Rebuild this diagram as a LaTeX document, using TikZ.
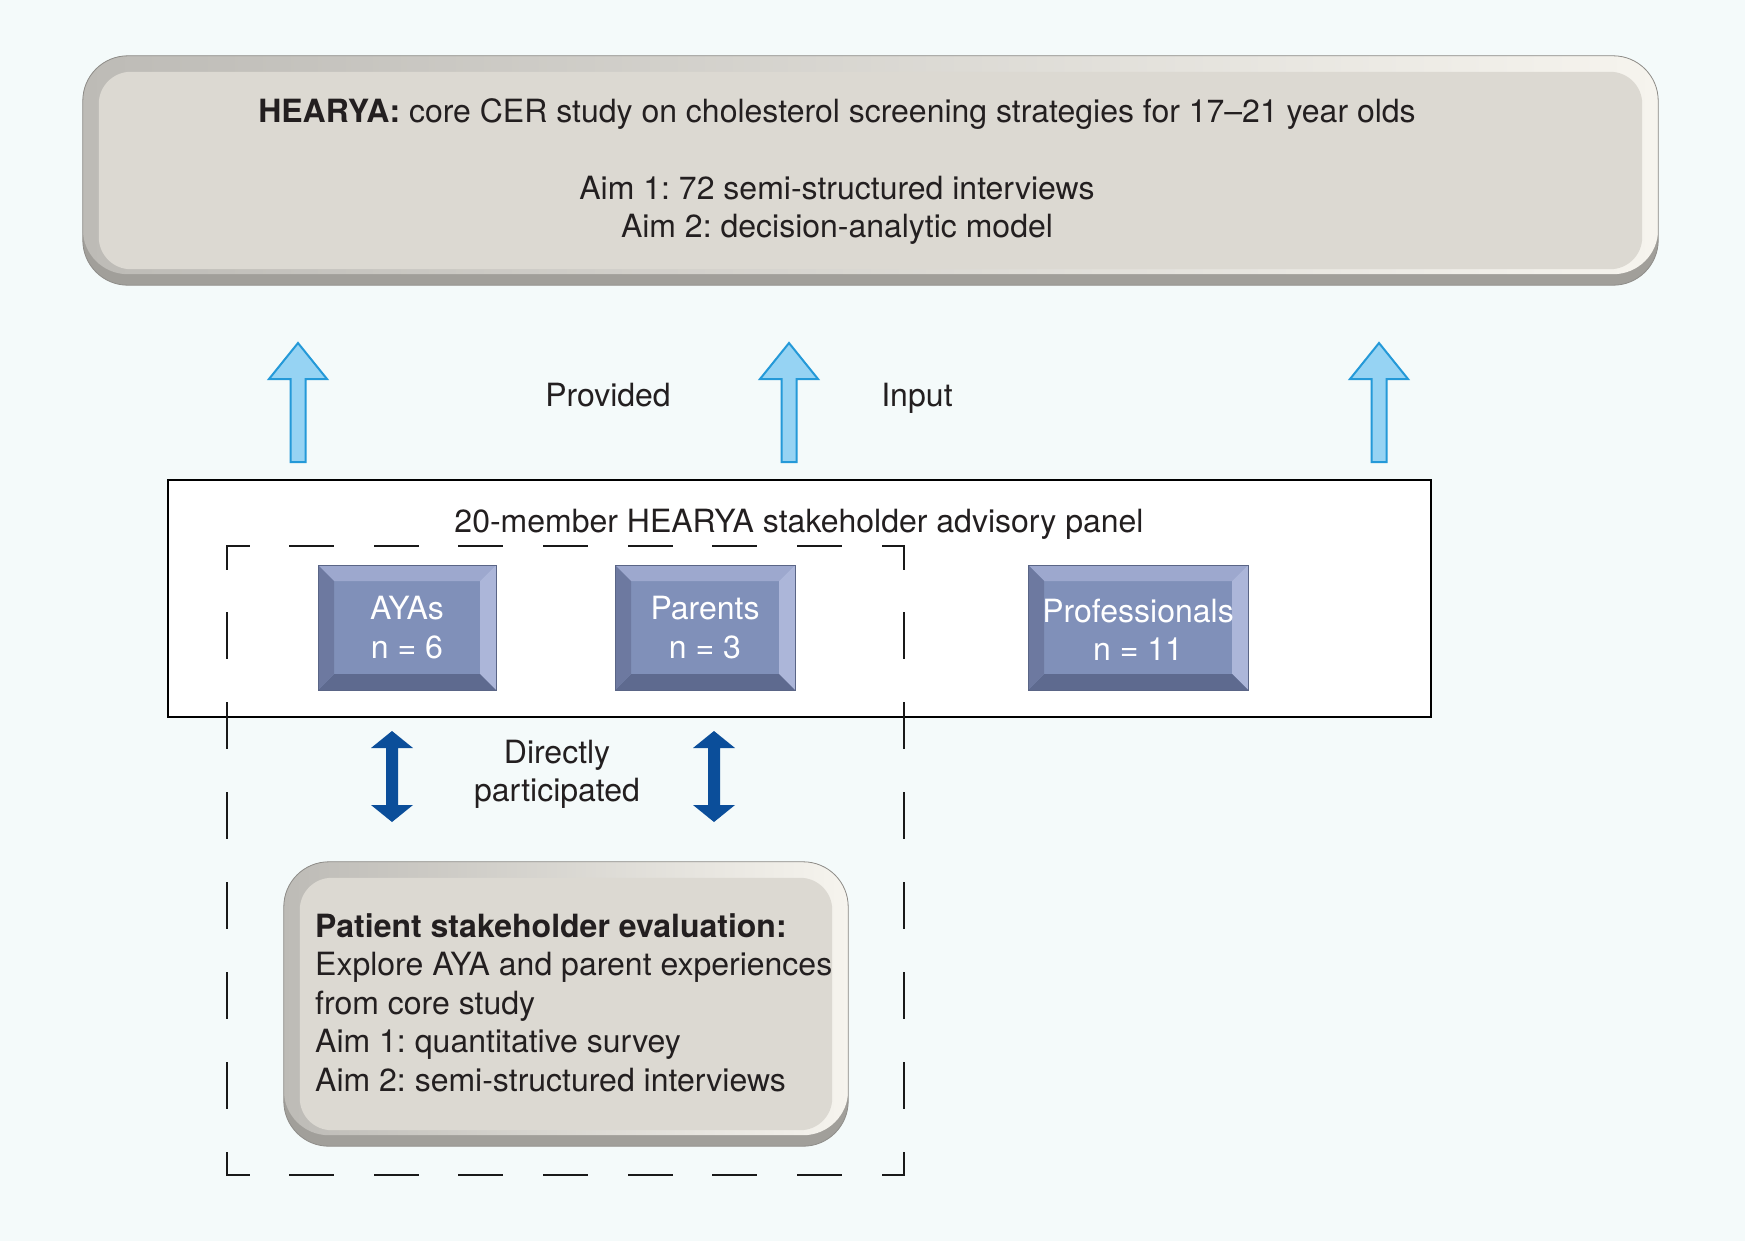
\documentclass[tikz,border=0pt]{standalone}
\usepackage{fontspec}
\setmainfont{TeX Gyre Heros}
\usetikzlibrary{calc}
\definecolor{bgin}{HTML}{F4FAFA}
\definecolor{bgout}{HTML}{D9EEEC}
\definecolor{ink}{HTML}{231F20}
\definecolor{bevdark}{HTML}{A19F9A}
\definecolor{bevleft}{HTML}{BDBBB6}
\definecolor{bevmid}{HTML}{E7E5DF}
\definecolor{bevright}{HTML}{F6F4EE}
\definecolor{bevline}{HTML}{8F8D89}
\definecolor{facegray}{HTML}{DCD9D2}
\definecolor{bface}{HTML}{8090B9}
\definecolor{btop}{HTML}{9DA8CE}
\definecolor{bright}{HTML}{ACB6D9}
\definecolor{bbot}{HTML}{5E6A8F}
\definecolor{bleft}{HTML}{6D79A0}
\definecolor{bline}{HTML}{5A6586}
\definecolor{lbfill}{HTML}{96D3F3}
\definecolor{lbline}{HTML}{2499D8}
\definecolor{dkblue}{HTML}{0B4E9A}
\pgfdeclareradialshading{bgshade}{\pgfpoint{0bp}{0bp}}{color(0bp)=(bgin); color(36bp)=(bgin); color(50bp)=(bgout); color(72bp)=(bgout)}
\newcommand\liftarrow[2]{%
  \filldraw[lightarrow] ($(#1)+(-7.5,0)$) -- ($(#2)+(-7.5,36)$) -- ($(#2)+(-29,36)$) -- (#2)
    -- ($(#2)+(29,36)$) -- ($(#2)+(7.5,36)$) -- ($(#1)+(7.5,0)$) -- cycle;}
\newcommand\bothwayarrow[2]{%
  \fill[darkarrow] (#1) -- ($(#1)+(21,17)$) -- ($(#1)+(6,17)$) -- ($(#2)+(6,-17)$) -- ($(#2)+(21,-17)$)
    -- (#2) -- ($(#2)+(-21,-17)$) -- ($(#2)+(-6,-17)$) -- ($(#1)+(-6,17)$) -- ($(#1)+(-21,17)$) -- cycle;}
\newcommand\bevelround[1]{%
  \fill[bevdark] (#1.north west) [rounded corners=45] rectangle (#1.south east);
  \shade[left color=bevleft, middle color=bevmid, right color=bevright, rounded corners=45]
    (#1.north west) rectangle ([shift={(0,-11)}]#1.south east);
  \fill[facegray, rounded corners=32] ([shift={(16,16)}]#1.north west) rectangle ([shift={(-16,-16)}]#1.south east);
  \draw[bevline, line width=0.8, rounded corners=45] (#1.north west) rectangle (#1.south east);}
\begin{document}
\frenchspacing
\begin{tikzpicture}[x=1pt,y=-1pt,
  font=\fontsize{32}{38.5}\selectfont, text=ink,
  every node/.style={inner sep=0pt},
  lightarrow/.style={fill=lbfill, draw=lbline, line width=2, line join=miter},
  darkarrow/.style={fill=dkblue},
  dashline/.style={line width=2, black!90, line cap=rect},
  bluebox/.style={rectangle, fill=bface, draw=bline, line width=1, text=white, align=center,
    path picture={
      \coordinate (pNW) at (path picture bounding box.north west);
      \coordinate (pNE) at (path picture bounding box.north east);
      \coordinate (pSE) at (path picture bounding box.south east);
      \coordinate (pSW) at (path picture bounding box.south west);
      \fill[btop] (pNW) -- (pNE) -- ($(pNE)+(-16,16)$) -- ($(pNW)+(16,16)$) -- cycle;
      \fill[bright] (pNE) -- (pSE) -- ($(pSE)+(-16,-16)$) -- ($(pNE)+(-16,16)$) -- cycle;
      \fill[bbot] (pSE) -- (pSW) -- ($(pSW)+(16,-16)$) -- ($(pSE)+(-16,-16)$) -- cycle;
      \fill[bleft] (pSW) -- (pNW) -- ($(pNW)+(16,16)$) -- ($(pSW)+(16,-16)$) -- cycle;
    }},
  panelbox/.style={rectangle, draw=black, fill=white, line width=1.6}
]
% background
\path[shading=bgshade] (0,0) rectangle (1745,1240);
\useasboundingbox (0,0) rectangle (1745,1240);

% top box
\node[rectangle, minimum width=1575, minimum height=229] (hearya) at (870.5,170.5) {};
\bevelround{hearya}
\node[anchor=north, align=center] (hearyatxt) at (837,97)
  {\rule{0pt}{25pt}\textbf{HEARYA:} core CER study on cholesterol screening strategies for 17–21 year olds\\[38.5pt]
   Aim 1: 72 semi-structured interviews\\
   Aim 2: decision-analytic model};

% light arrows
\coordinate (u1b) at (298,462); \coordinate (u1t) at (298,343);
\coordinate (u2b) at (789,462); \coordinate (u2t) at (789,343);
\coordinate (u3b) at (1379,462); \coordinate (u3t) at (1379,343);
\liftarrow{u1b}{u1t}
\liftarrow{u2b}{u2t}
\liftarrow{u3b}{u3t}
\node[anchor=base] (provided) at (608,406) {Provided};
\node[anchor=base] (input) at (917,406) {Input};

% panel
\node[panelbox, minimum width=1263, minimum height=237] (panel) at (799.5,598.5) {};
\node[anchor=base] (paneltitle) at (799,532) {20-member HEARYA stakeholder advisory panel};

% dashed box
\coordinate (dtl) at (227,546);
\coordinate (dtr) at (904,546);
\coordinate (dbr) at (904,1175);
\coordinate (dbl) at (227,1175);
\draw[dashline, dash pattern=on 43pt off 41.625pt, dash phase=21.5pt] (dtl) -- (dtr);
\draw[dashline, dash pattern=on 43pt off 41.625pt, dash phase=21.5pt] (dbl) -- (dbr);
\draw[dashline, dash pattern=on 45pt off 44.857pt, dash phase=22.5pt] (dtl) -- (dbl);
\draw[dashline, dash pattern=on 45pt off 44.857pt, dash phase=22.5pt] (dtr) -- (dbr);

% blue boxes
\node[bluebox, minimum width=178, minimum height=125] (ayas) at (407,627.5) {AYAs\\n = 6};
\node[bluebox, minimum width=180, minimum height=125] (parents) at (705,627.5) {Parents\\n = 3};
\node[bluebox, minimum width=220, minimum height=125] (prof) at (1138,627.5) {\rule{0pt}{28pt}Professionals\\n = 11};

% double arrows
\coordinate (d1t) at (392,731); \coordinate (d1b) at (392,822);
\coordinate (d2t) at (714,731); \coordinate (d2b) at (714,822);
\bothwayarrow{d1t}{d1b}
\bothwayarrow{d2t}{d2b}
\node[anchor=north, align=center] (direct) at (557,738) {\rule{0pt}{25pt}Directly\\participated};

% bottom box
\node[rectangle, minimum width=564, minimum height=284] (evalbox) at (566,1004) {};
\bevelround{evalbox}
\node[anchor=north west, align=left] (evaltxt) at (315,912)
  {\rule{0pt}{25pt}\textbf{Patient stakeholder evaluation:}\\
   Explore AYA and parent experiences\\
   from core study\\
   Aim 1: quantitative survey\\
   Aim 2: semi-structured interviews};
\end{tikzpicture}
\end{document}
